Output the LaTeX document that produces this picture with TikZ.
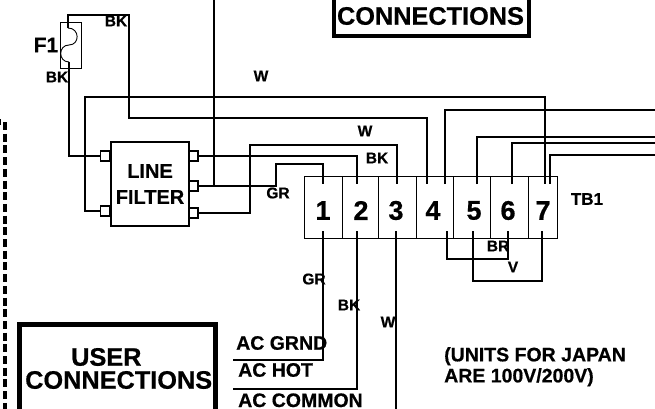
\documentclass[tikz,border=0pt]{standalone}
\usepackage{fontspec}
\setmainfont{Liberation Sans}[BoldFeatures={FakeBold=0.6}]
\usepackage{tikz}
\usetikzlibrary{positioning, calc}
\tikzset{wire/.style={draw, line width=2pt, line join=miter},
  port/.style={shape=rectangle, draw, fill=white, line width=1.7pt, inner sep=0pt,
    minimum width=9pt, minimum height=9.5pt},
  cell/.style={shape=rectangle, draw, line width=1.3pt, inner sep=0pt, anchor=north west,
    minimum height=62pt},
  tag/.style={font=\fontsize{15.5}{15.5}\bfseries\selectfont, inner sep=0pt},
  num/.style={font=\fontsize{27}{27}\bfseries\selectfont, inner sep=0pt},
  note/.style={font=\fontsize{19.5}{21}\bfseries\selectfont, inner sep=0pt, align=left},
  title/.style={font=\fontsize{25.3}{23}\bfseries\selectfont, inner sep=0pt, align=left}}

\begin{document}
\begin{tikzpicture}[x=1pt, y=-1pt]
      \useasboundingbox (0,0) rectangle (655,409);
      % panel edge and boxes
      \coordinate (edgetop) at (5.2,122);
      \coordinate (edgebot) at (5.2,409);
      \coordinate (edgeleft) at (1,122);
      \draw[line width=4.5pt, dash pattern=on 8pt off 3.7pt] (edgetop) -- (edgebot);
      \draw[line width=6pt] (edgeleft) -- +(-3,0);
      \node[title] (topbox) at (430.5,16) {CONNECTIONS};
      \draw[line width=3.5pt] (334,-5) -- (334,36) -- (529,36) -- (529,-5);
      \node[title, anchor=west] (userbox) at (25,368.5) {\hspace*{46pt}USER\\CONNECTIONS};
      \draw[line width=5pt] (19.5,420) -- (19.5,324.5) -- (215.5,324.5) -- (215.5,420);
      % fuse
      \node[shape=rectangle, draw, line width=.8pt, minimum width=21pt, minimum height=46pt,
        inner sep=0pt] (fuse) at (70.5,45) {};
      \node[font=\fontsize{21}{21}\bfseries\selectfont, inner sep=0pt] (fusename) at (46,45) {F1};
      \coordinate (fuseup) at (68,28);
      \coordinate (fusedown) at (69,62);
      \draw[line width=.9pt] (fuseup) .. controls (80,28) and (80,45) .. (69,45)
        .. controls (58,45) and (58,62) .. (fusedown);
      % line filter
      \node[shape=rectangle, draw, line width=2pt, minimum width=78pt, minimum height=84pt,
        inner sep=0pt, font=\fontsize{20}{26}\bfseries\selectfont, align=center] (filter)
        at (150,184) {LINE\\FILTER};
      \node[port] (inup) at (105,156) {};
      \node[port] (inlow) at (105,211) {};
      \node[port] (outup) at (193.5,156) {};
      \node[port] (outmid) at (193.5,186) {};
      \node[port] (outlow) at (193.5,213) {};
      % terminal block
      \node[cell, line width=1pt, minimum width=38pt] (tb1) at (304,176) {};
      \foreach \n/\x/\w in {2/342/36, 3/378/38, 4/416/37, 5/453/37, 6/490/38, 7/528/29}
        \node[cell, minimum width=\w pt] (tb\n) at (\x,176) {};
      \foreach \n/\lx in {1/323, 2/361, 3/396, 4/433, 5/474, 6/508, 7/543}
        \node[num] (no\n) at (\lx,210.5) {\n};
      % pins at the top and the bottom of the block
      \foreach \n/\x in {1/323, 2/357, 3/397, 4/427, 5/445, 6/477, 7/512, 8/545, 9/550}
        \coordinate (top\n) at (\x,184);
      \foreach \n/\x in {1/323, 2/357, 3/396, 4/447, 5/473, 6/508, 7/542}
        \coordinate (bot\n) at (\x,231);
      % free ends
      \coordinate (mains) at (214,0);
      \foreach \n/\y in {1/110, 2/137, 3/143, 4/155}
        \coordinate (rt\n) at (655,\y);
      \coordinate (hot) at (233,360);
      \coordinate (common) at (233,389);
      \coordinate (whiteend) at (396,409);
      % wires
      \draw[wire] (fusedown) -- (69,68) |- (inup);
      \draw[wire] (fuseup) -- (68,15) -| (129,118) -| (top4);
      \draw[wire] (inlow) -| (85,97) -| (top8);
      \draw[wire] (mains) |- (outmid);
      \draw[wire] (outmid) -| (276,164) -| (top1);
      \draw[wire] (outup) -| (top2);
      \draw[wire] (outlow) -| (250,145) -| (top3);
      \draw[wire] (top5) |- (rt1);
      \draw[wire] (top6) |- (rt2);
      \draw[wire] (top7) |- (rt3);
      \draw[wire] (top9) |- (rt4);
      \draw[wire] (bot1) |- (hot);
      \draw[wire] (bot2) |- (common);
      \draw[wire] (bot3) -- (whiteend);
      \draw[wire] (bot4) |- (500,259) -| (bot6);
      \draw[wire] (bot5) |- (500,281) -| (bot7);
      % labels
      \node[tag] (bk1) at (116,21) {BK};
      \node[tag] (bk2) at (57,77) {BK};
      \node[tag] (w1) at (261,76) {W};
      \node[tag] (w2) at (365,131) {W};
      \node[tag] (bk3) at (377,158) {BK};
      \node[tag] (gr1) at (278,193) {GR};
      \node[tag] (gr2) at (314,279) {GR};
      \node[tag] (bk4) at (349,305) {BK};
      \node[tag] (w3) at (388,322) {W};
      \node[tag] (br) at (498,246) {BR};
      \node[tag] (v) at (513,267) {V};
      \node[font=\fontsize{17}{17}\bfseries\selectfont, inner sep=0pt] (tbname) at (587,199) {TB1};
      \node[note, anchor=west] (acg) at (236,343) {AC GRND};
      \node[note, anchor=west] (ach) at (238,370) {AC HOT};
      \node[note, anchor=base west] (acc) at (238,407) {AC COMMON};
      \node[note, anchor=north west] (japan) at (444,347) {(UNITS FOR JAPAN\\ARE 100V/200V)};
\end{tikzpicture}
\end{document}
